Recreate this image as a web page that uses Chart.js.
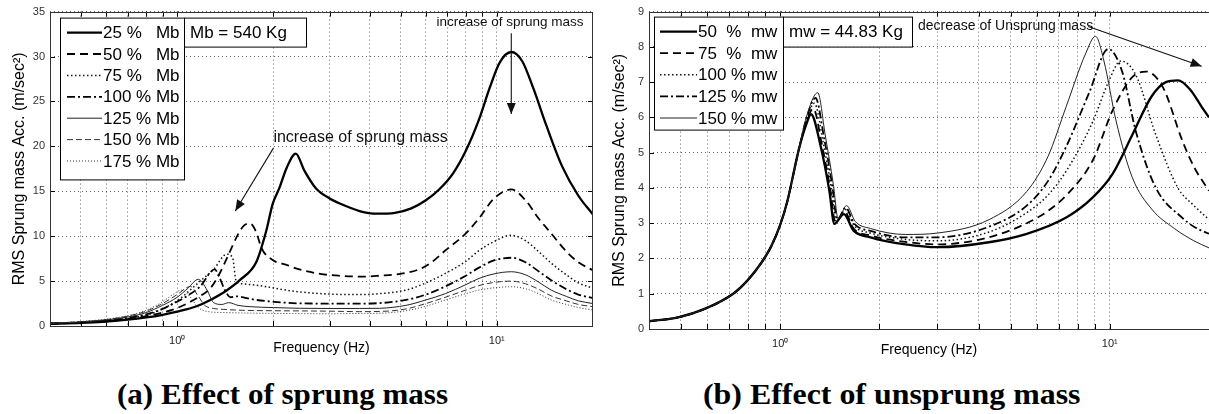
<!DOCTYPE html>
<html><head><meta charset="utf-8">
<script src="https://cdn.jsdelivr.net/npm/chart.js@4/dist/chart.umd.min.js"></script>
<style>
html,body{margin:0;padding:0;background:#fff;width:1209px;height:414px;overflow:hidden;}
canvas{position:absolute;top:0;}
#a{left:0;} #b{left:600px;}
.cap{position:absolute;top:380px;line-height:29px;font-family:"Liberation Serif","Times New Roman",serif;font-weight:bold;font-size:29px;white-space:nowrap;color:#000;transform-origin:0 50%;}
#ca{left:117px;transform:scaleX(1.07);} #cb{left:703px;transform:scaleX(1.10);}
</style></head>
<body>
<canvas id="a" width="600" height="360"></canvas>
<canvas id="b" width="609" height="360"></canvas>
<div class="cap" id="ca">(a) Effect of sprung mass</div>
<div class="cap" id="cb">(b) Effect of unsprung mass</div>
<script>
// ---------- DATA : chart (a) sprung mass ----------
const labelsA = ['25 %   Mb','50 %   Mb','75 %   Mb','100 % Mb','125 % Mb','150 % Mb','175 % Mb'];
const fA25 = [0.4,0.5,0.6,0.7,0.8,0.9,1.0,1.15,1.27,1.42,1.57,1.77,1.9,1.99,2.09,2.2,2.35,2.5,2.72,3.0,3.4,3.72,4.2,4.8,5.4,6.0,6.6,7.3,8.0,8.8,9.5,10.2,11.1,12.0,13.0,14.3,16.0,18.0,20.0];
const vA25 = [0.25,0.35,0.5,0.7,0.95,1.25,1.6,2.2,2.9,3.9,5.1,7.15,10.6,13.6,15.4,17.6,19.2,17.3,15.3,14.2,13.3,12.8,12.5,12.6,13.1,14.0,15.2,17.0,19.5,23.0,26.5,29.3,30.5,29.5,26.5,22.3,17.8,14.5,12.4];
const fA50 = [0.4,0.5,0.6,0.7,0.8,0.9,1.0,1.1,1.2,1.27,1.36,1.45,1.55,1.62,1.69,1.76,1.84,2.0,2.2,2.41,2.8,3.2,3.8,4.3,5.0,5.7,6.2,6.9,8.0,8.8,9.8,11.1,12.3,13.5,14.8,16.5,18.0,20.0];
const vA50 = [0.25,0.38,0.55,0.78,1.1,1.5,2.0,2.7,3.5,4.2,5.9,8.0,10.2,11.2,11.4,10.6,8.6,7.3,6.8,6.3,5.8,5.6,5.5,5.6,5.8,6.3,7.0,8.4,10.3,12.0,14.2,15.2,14.0,12.0,10.3,8.3,7.1,6.2];
const fA75 = [0.4,0.5,0.6,0.7,0.8,0.9,1.0,1.05,1.18,1.3,1.43,1.49,1.53,1.6,1.81,2.1,2.41,3.0,3.72,4.3,5.2,6.0,6.9,8.0,8.8,9.8,11.1,12.3,13.5,14.8,16.5,18.0,20.0];
const vA75 = [0.27,0.4,0.6,0.85,1.2,1.9,2.8,3.4,5.0,6.3,8.0,7.6,5.0,4.7,4.5,4.1,3.8,3.55,3.5,3.6,4.0,4.8,5.85,7.2,8.4,9.4,10.1,9.5,8.3,7.0,5.7,4.8,4.2];
const fA100 = [0.4,0.5,0.6,0.7,0.8,0.9,0.95,1.07,1.18,1.31,1.36,1.41,1.47,1.53,1.65,1.77,2.0,2.41,3.0,3.72,4.3,5.2,6.0,6.9,8.0,8.8,9.8,11.1,12.3,13.5,14.8,16.5,18.0,20.0];
const vA100 = [0.28,0.42,0.62,0.9,1.3,1.9,2.3,3.3,4.4,6.3,5.3,4.0,3.2,3.3,3.1,2.9,2.7,2.52,2.5,2.5,2.55,2.9,3.5,4.4,5.6,6.5,7.3,7.6,7.1,6.1,5.1,4.1,3.5,3.1];
const fA125 = [0.4,0.5,0.6,0.7,0.8,0.9,1.0,1.08,1.165,1.24,1.3,1.38,1.45,1.55,1.69,2.0,2.41,3.0,3.72,4.3,5.2,6.0,6.9,8.0,8.8,9.8,11.1,12.3,13.5,14.8,16.5,18.0,20.0];
const vA125 = [0.3,0.45,0.68,1.0,1.5,2.3,3.2,4.2,5.2,4.0,2.6,2.4,2.6,2.3,2.15,2.05,1.97,1.95,1.95,1.97,2.3,2.9,3.6,4.6,5.3,5.8,6.04,5.7,4.9,4.0,3.3,2.8,2.5];
const fA150 = [0.4,0.5,0.6,0.7,0.8,0.9,1.0,1.1,1.16,1.22,1.3,1.4,1.6,2.0,2.41,3.0,3.72,4.3,5.2,6.0,6.9,8.0,8.8,9.8,11.1,12.3,13.5,14.8,16.5,18.0,20.0];
const vA150 = [0.3,0.47,0.72,1.1,1.65,2.5,3.5,4.4,3.4,2.3,1.95,1.85,1.75,1.7,1.68,1.65,1.6,1.62,1.9,2.5,3.2,4.0,4.5,4.85,5.0,4.7,4.1,3.35,2.8,2.4,2.15];
const fA175 = [0.4,0.5,0.6,0.7,0.8,0.9,0.97,1.03,1.1,1.16,1.25,1.4,1.6,2.0,2.41,3.0,3.72,4.3,5.2,6.0,6.9,8.0,8.8,9.8,11.1,12.3,13.5,14.8,16.5,18.0,20.0];
const vA175 = [0.3,0.5,0.76,1.15,1.75,2.7,3.5,4.0,3.2,2.1,1.6,1.5,1.45,1.4,1.38,1.36,1.4,1.42,1.7,2.2,2.9,3.6,4.0,4.25,4.37,4.15,3.6,2.9,2.4,2.05,1.78];

// ---------- DATA : chart (b) unsprung mass ----------
const labelsB = ['50  %  mw','75  %  mw','100 % mw','125 % mw','150 % mw'];
const fB50 = [0.4,0.49,0.59,0.72,0.8,0.88,0.94,1.0,1.05,1.14,1.2,1.24,1.33,1.41,1.46,1.56,1.67,1.88,2.4,3.0,4.3,5.6,7.4,8.9,10.2,11.7,13.4,14.8,16.1,17.5,19.0,20.0];
const vB50 = [0.22,0.33,0.57,1.0,1.4,1.9,2.35,2.95,3.6,5.1,5.8,6.09,5.14,3.92,2.98,3.26,2.79,2.6,2.4,2.32,2.46,2.7,3.17,3.74,4.4,5.5,6.6,7.0,7.05,6.8,6.3,6.0];
const fB75 = [0.4,0.49,0.59,0.72,0.8,0.88,0.94,1.0,1.05,1.14,1.2,1.26,1.34,1.42,1.47,1.57,1.67,1.88,2.4,3.0,4.3,5.6,6.5,7.4,8.9,10.2,11.7,12.9,14.5,16.6,18.0,20.0];
const vB75 = [0.22,0.33,0.57,1.0,1.4,1.9,2.35,2.95,3.6,5.1,5.85,6.25,5.2,3.95,3.02,3.32,2.85,2.65,2.47,2.4,2.6,3.0,3.35,3.8,4.8,6.2,7.14,7.3,6.85,5.34,4.6,3.92];
const fB100 = [0.4,0.49,0.59,0.72,0.8,0.88,0.94,1.0,1.05,1.14,1.2,1.27,1.35,1.43,1.48,1.58,1.68,1.88,2.4,3.0,4.3,5.6,6.5,7.4,8.9,9.9,10.8,12.0,13.8,16.1,18.0,20.0];
const vB100 = [0.22,0.33,0.57,1.0,1.4,1.9,2.35,2.95,3.6,5.1,5.9,6.4,5.3,4.0,3.06,3.38,2.92,2.72,2.54,2.5,2.75,3.3,3.8,4.5,5.9,7.0,7.6,7.2,5.5,4.0,3.5,3.1];
const fB125 = [0.4,0.49,0.59,0.72,0.8,0.88,0.94,1.0,1.05,1.14,1.2,1.28,1.36,1.44,1.49,1.58,1.68,1.88,2.4,3.0,4.3,5.6,6.5,7.4,8.66,9.9,10.9,12.0,13.8,16.6,18.0,20.0];
const vB125 = [0.22,0.33,0.57,1.0,1.4,1.9,2.35,2.95,3.6,5.1,5.95,6.55,5.4,4.05,3.1,3.44,2.98,2.78,2.6,2.6,2.9,3.5,4.2,5.2,6.7,7.94,7.3,5.6,4.0,3.15,2.9,2.7];
const fB150 = [0.4,0.49,0.59,0.72,0.8,0.88,0.94,1.0,1.05,1.14,1.2,1.3,1.37,1.45,1.5,1.59,1.69,1.88,2.4,3.0,4.3,5.6,6.5,7.37,8.44,9.05,9.6,10.45,11.7,13.4,15.7,18.0,20.0];
const vB150 = [0.22,0.33,0.57,1.0,1.4,1.9,2.35,2.95,3.6,5.1,6.0,6.7,5.5,4.1,3.12,3.5,3.05,2.85,2.68,2.72,3.1,3.9,4.9,6.3,7.8,8.3,7.6,5.9,4.3,3.4,2.85,2.5,2.3];

// ---------- axis / tick values ----------
const xTickVals = [0.5,0.6,0.7,0.8,0.9,1,2,3,4,5,6,7,8,9,10];
const xTickText = {1:'10\u2070', 10:'10\u00B9'};
const xRange = [0.4, 20];
const yRangeA = [0, 35], yStepA = 5;
const yRangeB = [0, 9], yStepB = 1;
const yTitle = 'RMS Sprung mass Acc. (m/sec\u00B2)';
const xTitle = 'Frequency (Hz)';
const boxTextA = 'Mb = 540 Kg';
const boxTextB = 'mw = 44.83 Kg';
// annotations in data coordinates
const annA = [
  {text:'increase of sprung mass', x:11.0, y:33.8, align:'center', size:13.5, from:[11.1,32.6], to:[11.1,23.6]},
  {text:'increase of sprung mass', x:2.0, y:21.0, align:'left', size:16, from:[2.0,19.8], to:[1.52,12.8]}
];
const annB = [
  {text:'decrease of Unsprung mass', x:2.62, y:8.58, align:'left', size:14, from:[8.6,8.58], to:[19.0,7.45]}
];

// ---------- styles ----------
const stylesA = [
  {w:2.3, d:[], c:'#000'},
  {w:1.8, d:[8,5], c:'#000'},
  {w:1.5, d:[1.5,2.5], c:'#111'},
  {w:1.8, d:[8,3,2,3], c:'#000'},
  {w:1.0, d:[], c:'#222'},
  {w:1.0, d:[6,3], c:'#333'},
  {w:1.0, d:[1,2], c:'#333'}
];
const stylesB = [
  {w:2.3, d:[], c:'#000'},
  {w:1.8, d:[8,5], c:'#000'},
  {w:1.5, d:[1.5,2.5], c:'#111'},
  {w:1.8, d:[8,3,2,3], c:'#000'},
  {w:1.0, d:[], c:'#222'}
];

Chart.defaults.font.family = '"Liberation Sans", Arial, sans-serif';
Chart.defaults.color = '#222';

function mkDatasets(labels, fs, vs, styles){
  return labels.map((lab,i)=>({
    label: lab,
    data: fs[i].map((f,k)=>({x:f, y:vs[i][k]})),
    borderColor: styles[i].c, borderWidth: styles[i].w, borderDash: styles[i].d,
    pointRadius: 0, fill: false, cubicInterpolationMode: 'monotone', order: labels.length - i
  }));
}

function arrow(ctx, x1,y1,x2,y2){
  ctx.beginPath(); ctx.moveTo(x1,y1); ctx.lineTo(x2,y2); ctx.stroke();
  const a = Math.atan2(y2-y1, x2-x1), L = 11, W = 4.5;
  ctx.beginPath();
  ctx.moveTo(x2,y2);
  ctx.lineTo(x2 - L*Math.cos(a) + W*Math.sin(a), y2 - L*Math.sin(a) - W*Math.cos(a));
  ctx.lineTo(x2 - L*Math.cos(a) - W*Math.sin(a), y2 - L*Math.sin(a) + W*Math.cos(a));
  ctx.closePath(); ctx.fill();
}

function makeDecor(opts){
  return {
    id:'decor',
    afterDatasetsDraw(chart){
      const ctx = chart.ctx, xs = chart.scales.x, ys = chart.scales.y, ca = chart.chartArea;
      ctx.save();
      // annotations
      ctx.fillStyle = '#111'; ctx.strokeStyle = '#111'; ctx.lineWidth = 1.1;
      opts.ann.forEach(a=>{
        ctx.font = a.size + 'px "Liberation Sans", Arial, sans-serif';
        ctx.textAlign = a.align; ctx.textBaseline = 'middle';
        ctx.fillText(a.text, xs.getPixelForValue(a.x), ys.getPixelForValue(a.y));
        arrow(ctx, xs.getPixelForValue(a.from[0]), ys.getPixelForValue(a.from[1]),
                   xs.getPixelForValue(a.to[0]), ys.getPixelForValue(a.to[1]));
      });
      // inner ticks
      ctx.strokeStyle = '#000'; ctx.lineWidth = 1; ctx.setLineDash([]);
      xTickVals.forEach(v=>{
        const px = Math.round(xs.getPixelForValue(v)) + 0.5;
        ctx.beginPath(); ctx.moveTo(px, ca.bottom); ctx.lineTo(px, ca.bottom - 5);
        ctx.moveTo(px, ca.top); ctx.lineTo(px, ca.top + 5); ctx.stroke();
      });
      ys.ticks.forEach(t=>{
        const py = Math.round(ys.getPixelForValue(t.value)) + 0.5;
        ctx.beginPath(); ctx.moveTo(ca.left, py); ctx.lineTo(ca.left + 5, py);
        if (opts.rightFrame) { ctx.moveTo(ca.right, py); ctx.lineTo(ca.right - 5, py); }
        ctx.stroke();
      });
      // frame
      ctx.strokeStyle = '#333';
      const l = Math.round(ca.left)+0.5, t = Math.round(ca.top)+0.5, b = Math.round(ca.bottom)+0.5;
      const r = opts.rightFrame ? Math.round(ca.right)-0.5 : ca.right + 2;
      ctx.beginPath();
      ctx.moveTo(r, t); ctx.lineTo(l, t); ctx.lineTo(l, b); ctx.lineTo(r, b);
      if (opts.rightFrame) { ctx.closePath(); }
      ctx.stroke();
      // legend box
      const L = opts.leg;
      const x0 = ca.left + L.dx, y0 = ca.top + L.dy;
      const n = chart.data.datasets.length;
      const h = L.rowH * n + L.pad;
      ctx.fillStyle = '#fff'; ctx.fillRect(x0, y0, L.w, h);
      ctx.strokeStyle = '#000'; ctx.lineWidth = 1;
      ctx.strokeRect(x0+0.5, y0+0.5, L.w, h);
      ctx.font = '17px "Liberation Sans", Arial, sans-serif';
      ctx.textAlign = 'left'; ctx.textBaseline = 'middle';
      chart.data.datasets.forEach((ds,i)=>{
        const yy = y0 + L.first + i*L.rowH;
        ctx.strokeStyle = ds.borderColor; ctx.lineWidth = ds.borderWidth; ctx.setLineDash(ds.borderDash);
        ctx.beginPath(); ctx.moveTo(x0 + L.s0, yy); ctx.lineTo(x0 + L.s1, yy); ctx.stroke();
        ctx.setLineDash([]);
        ctx.fillStyle = '#000';
        ctx.fillText(ds.label, x0 + L.s1 + 1, yy + 1);
      });
      // info box
      const bx = x0 + L.w, bw = L.bw, bh = L.bh;
      ctx.fillStyle = '#fff'; ctx.fillRect(bx, y0, bw, bh);
      ctx.strokeStyle = '#000'; ctx.lineWidth = 1;
      ctx.strokeRect(bx+0.5, y0+0.5, bw, bh);
      ctx.fillStyle = '#000';
      ctx.fillText(opts.box, bx + 6, y0 + bh/2 + 1);
      ctx.restore();
    }
  };
}

function makeChart(id, labels, fs, vs, styles, yRange, yStep, padTop, padRight, yW, xH, xTitlePad, ann, leg, box, rightFrame){
  return new Chart(document.getElementById(id), {
    type: 'line',
    data: { datasets: mkDatasets(labels, fs, vs, styles) },
    options: {
      responsive: false, animation: false, devicePixelRatio: 1,
      layout: { padding: {top: padTop, right: padRight, left: 0, bottom: 0} },
      plugins: { legend: {display:false}, tooltip: {enabled:false} },
      scales: {
        x: {
          type: 'logarithmic', min: xRange[0], max: xRange[1],
          afterBuildTicks: s => { s.ticks = xTickVals.map(v=>({value:v})); },
          afterFit: s => { s.height = xH; },
          ticks: { autoSkip:false, maxRotation:0, padding: 8, font:{size:11}, color:'#222',
                   callback: v => xTickText[v] || '' },
          grid: { color:'rgba(0,0,0,0.6)', lineWidth:1, drawTicks:false },
          border: { display:false, dash:[1,3] },
          title: { display:true, text:xTitle, font:{size:14}, color:'#000', padding:{top:0, bottom:xTitlePad} }
        },
        y: {
          type: 'linear', min: yRange[0], max: yRange[1],
          afterFit: s => { s.width = yW; },
          ticks: { stepSize: yStep, padding: 5, font:{size:11}, color:'#333' },
          grid: { color:'rgba(0,0,0,0.6)', lineWidth:1, drawTicks:false },
          border: { display:false, dash:[1,3] },
          title: { display:true, text:yTitle, font:{size:16}, color:'#000', padding:{top:10, bottom:0} }
        }
      }
    },
    plugins: [makeDecor({ann: ann, leg: leg, box: box, rightFrame: rightFrame})]
  });
}

makeChart('a', labelsA,
  [fA25,fA50,fA75,fA100,fA125,fA150,fA175],
  [vA25,vA50,vA75,vA100,vA125,vA150,vA175],
  stylesA, yRangeA, yStepA, 11, 7, 50, 34, 3.6, annA,
  {dx:10, dy:6, w:124, rowH:21.4, first:15, pad:12, s0:7, s1:42, bw:122, bh:29}, boxTextA, true);

makeChart('b', labelsB,
  [fB50,fB75,fB100,fB125,fB150],
  [vB50,vB75,vB100,vB125,vB150],
  stylesB, yRangeB, yStepB, 10, 0, 49, 31, 1.6, annB,
  {dx:5, dy:5, w:129, rowH:21.6, first:15, pad:5, s0:6, s1:43, bw:129, bh:30}, boxTextB, false);
</script>
</body></html>
